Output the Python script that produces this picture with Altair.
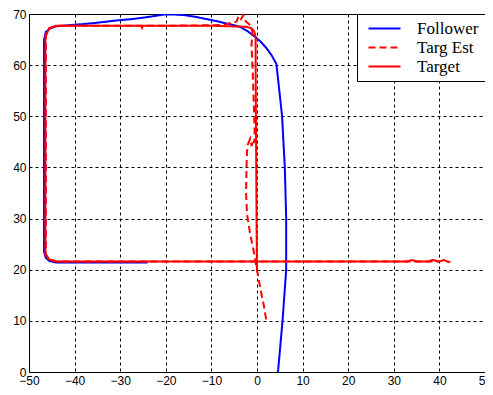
import altair as alt
import pandas as pd

# Follower path
fol_x = [4.6, 5.1, 5.6, 6.0, 6.4, 6.4, 6.4, 6.1, 5.5, 4.9, 4.25, 3.3, 2.1, 0.8, -0.5, -2.0, -3.75, -6.0, -8.8, -11.0, -13.2, -16.1, -18.5, -20.4, -22.5, -24.8, -27.5, -30.2, -33.0, -36.0, -38.5, -40.0, -42.5, -44.0, -45.3, -46.3, -46.7, -46.7, -46.7, -46.7, -46.3, -45.5, -44.0, -40.0, -30.0, -24.0]
fol_y = [0.0, 5.0, 10.0, 15.0, 20.0, 22.0, 30.0, 40.0, 50.0, 55.0, 60.2, 61.8, 63.3, 64.6, 65.6, 66.6, 67.5, 68.0, 68.6, 69.0, 69.4, 69.8, 69.9, 69.9, 69.6, 69.3, 69.0, 68.8, 68.5, 68.2, 68.0, 67.9, 67.7, 67.6, 67.2, 66.5, 65.0, 50.0, 30.0, 23.5, 22.3, 21.7, 21.4, 21.4, 21.4, 21.4]

# Target estimate path
est_x = [2.0, 1.5, 0.8, 0.2, -0.3, -0.8, -1.5, -2.2, -2.4, -2.3, -2.2, -2.0, -1.5, -1.2, -0.8, -0.6, -0.5, -0.6, -0.8, -1.0, -1.2, -1.0, -1.5, -2.5, -3.0, -3.5, -4.0, -4.5, -5.5, -7.0, -10.0, -20.0, -30.0, -44.0, -45.6, -46.3, -46.3, -46.3, -45.6, -44.0, -20.0, 0.0, 20.0, 40.0]
est_y = [10.3, 13.0, 16.0, 19.0, 21.5, 24.0, 27.0, 31.0, 35.0, 40.0, 43.0, 44.5, 45.6, 44.2, 45.5, 44.8, 46.0, 50.0, 55.0, 60.0, 64.0, 66.5, 67.8, 68.6, 69.8, 69.0, 69.6, 68.5, 68.3, 67.9, 67.8, 67.7, 67.7, 67.7, 67.2, 66.0, 40.0, 23.0, 22.0, 21.6, 21.6, 21.6, 21.6, 21.6]

# Target path
tgt_x = [0.0, -0.1, -0.2, -0.3, -0.3, -0.6, -1.2, -2.3, -10.0, -25.0, -25.2, -25.4, -30.0, -44.0, -45.6, -46.4, -46.4, -46.4, -45.6, -44.0, 0.0, 20.0, 33.0, 34.0, 35.0, 37.5, 38.5, 40.0, 41.0, 42.0, 42.4]
tgt_y = [19.5, 30.0, 45.0, 60.0, 65.5, 66.6, 67.2, 67.5, 67.7, 67.7, 67.3, 67.7, 67.7, 67.7, 67.2, 65.5, 40.0, 23.0, 22.0, 21.6, 21.6, 21.6, 21.6, 21.9, 21.6, 21.6, 21.9, 21.6, 21.9, 21.5, 21.6]

series = ["Follower", "Targ Est", "Target"]


def frame(name, xs, ys):
    return pd.DataFrame({"series": name, "idx": range(len(xs)), "x": xs, "y": ys})


df_f = frame("Follower", fol_x, fol_y)
df_e = frame("Targ Est", est_x, est_y)
df_t = frame("Target", tgt_x, tgt_y)

xsc = alt.Scale(domain=[-50, 50], nice=False, zero=False)
ysc = alt.Scale(domain=[0, 70], nice=False, zero=False)
color = alt.Color(
    "series:N",
    scale=alt.Scale(domain=series, range=["#0000ff", "#ff0000", "#ff0000"]),
    legend=alt.Legend(
        title=None,
        orient="top-right",
        offset=0,
        padding=6,
        strokeColor="black",
        fillColor="white",
        labelFont="Liberation Serif",
        labelFontSize=17,
        labelColor="black",
        symbolType="M-3.2,0H3.2",
        symbolSize=100,
        symbolStrokeWidth=2,
        symbolOffset=13,
        labelOffset=24,
        rowPadding=1,
    ),
)
dash = alt.StrokeDash(
    "series:N",
    scale=alt.Scale(domain=series, range=[[1, 0], [7, 4], [1, 0]]),
    legend=alt.Legend(title=None),
)


def axis(vals):
    return alt.Axis(
        values=vals,
        title=None,
        grid=True,
        gridColor="black",
        gridDash=[3, 3],
        gridOpacity=1,
        ticks=False,
        domain=False,
        labelFont="Liberation Sans",
        labelFontSize=12,
        labelColor="black",
        labelPadding=3,
        labelFlush=False,
    )


xax = axis(list(range(-50, 51, 10)))
yax = axis(list(range(0, 71, 10)))


def layer(df):
    return alt.Chart(df).mark_line(strokeWidth=2, clip=True).encode(
        x=alt.X("x:Q", scale=xsc, axis=xax),
        y=alt.Y("y:Q", scale=ysc, axis=yax),
        color=color,
        strokeDash=dash,
        order="idx:Q",
    )


chart = (
    alt.layer(layer(df_f), layer(df_e), layer(df_t))
    .properties(
        width=456,
        height=358,
        padding={"left": 21, "top": 6, "right": 0, "bottom": 15},
        autosize=alt.AutoSizeParams(type="none"),
        background="white",
    )
    .configure_view(stroke="black", strokeWidth=1)
)

chart.save("out.html", embed_options={"renderer": "svg", "actions": False})
